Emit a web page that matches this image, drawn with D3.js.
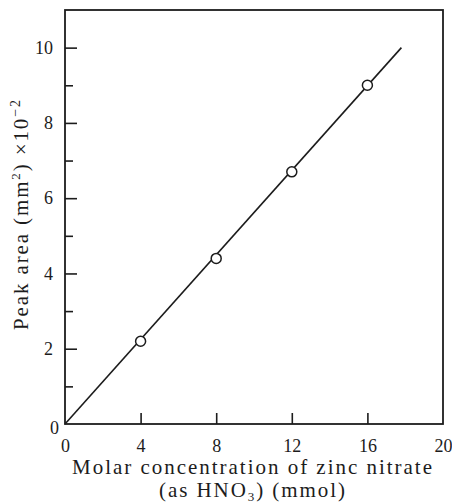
<!DOCTYPE html>
<html><head><meta charset="utf-8">
<script src="https://cdn.jsdelivr.net/npm/d3@7"></script>
<style>html,body{margin:0;padding:0;background:#fff;} svg{display:block;}</style>
</head><body>
<script>
// Data
const concentration = [4, 8, 12, 16];          // mmol (as HNO3)
const peakArea = [2.2, 4.4, 6.7, 9.0];         // mm^2 x 10^-2
const fitX = [0, 17.8];
const fitY = [0, 10.0];
const xMajorTicks = [0, 4, 8, 12, 16, 20];
const yMajorTicks = [0, 2, 4, 6, 8, 10];
const yMinorTicks = [1, 3, 5, 7, 9];

const W = 452, H = 504;
const m = {left: 65, right: 9, top: 10, bottom: 80};
const ink = "#1c1c1c";
const font = "'Liberation Serif','DejaVu Serif',serif";

const svg = d3.select("body").append("svg").attr("width", W).attr("height", H);

const x = d3.scaleLinear().domain([0, 20]).range([m.left, W - m.right]);
const y = d3.scaleLinear().domain([0, 11]).range([H - m.bottom, m.top]);

// Frame
svg.append("rect")
  .attr("x", x(0)).attr("y", y(11))
  .attr("width", x(20) - x(0)).attr("height", y(0) - y(11))
  .attr("fill", "none").attr("stroke", ink).attr("stroke-width", 1.8);

// X axis ticks (inward)
const xAxis = d3.axisBottom(x).tickValues(xMajorTicks).tickSize(-11).tickPadding(15).tickFormat(d3.format("d"));
const gx = svg.append("g").attr("transform", `translate(0,${y(0)})`).call(xAxis);
gx.select(".domain").remove();
gx.selectAll(".tick line").attr("stroke", ink).attr("stroke-width", 1.6)
  .filter(d => d === 0 || d === 20).remove();
gx.selectAll(".tick text").attr("fill", ink).style("font-family", font).style("font-size", "18px");

// Y axis major ticks (inward)
const yAxis = d3.axisLeft(y).tickValues(yMajorTicks).tickSize(-12).tickPadding(12).tickFormat(d3.format("d"));
const gy = svg.append("g").attr("transform", `translate(${x(0)},0)`).call(yAxis);
gy.select(".domain").remove();
gy.selectAll(".tick line").attr("stroke", ink).attr("stroke-width", 1.6)
  .filter(d => d === 0).remove();
gy.selectAll(".tick text").attr("fill", ink).style("font-family", font).style("font-size", "18px");
gy.selectAll(".tick").filter(d => d === 0).select("text").attr("dy", "0.55em").attr("x", -6);

// Y axis minor ticks
const yMinor = d3.axisLeft(y).tickValues(yMinorTicks).tickSize(-8).tickFormat("");
const gym = svg.append("g").attr("transform", `translate(${x(0)},0)`).call(yMinor);
gym.select(".domain").remove();
gym.selectAll(".tick line").attr("stroke", ink).attr("stroke-width", 1.6);

// Fit line
const line = d3.line().x(d => x(d[0])).y(d => y(d[1]));
svg.append("path").datum(d3.zip(fitX, fitY))
  .attr("d", line).attr("fill", "none").attr("stroke", ink).attr("stroke-width", 1.6);

// Points
svg.selectAll("circle.pt").data(d3.zip(concentration, peakArea)).join("circle")
  .attr("class", "pt")
  .attr("cx", d => x(d[0])).attr("cy", d => y(d[1])).attr("r", 5)
  .attr("fill", "#fff").attr("stroke", ink).attr("stroke-width", 1.5);

// X title
svg.append("text").attr("x", 252).attr("y", 474).attr("text-anchor", "middle")
  .attr("fill", ink).style("font-family", font).style("font-size", "21px")
  .attr("textLength", 360).attr("lengthAdjust", "spacing")
  .text("Molar concentration of zinc nitrate");
const xt2 = svg.append("text").attr("x", 252).attr("y", 497).attr("text-anchor", "middle")
  .attr("fill", ink).style("font-family", font).style("font-size", "21px")
  .attr("textLength", 186).attr("lengthAdjust", "spacing");
xt2.append("tspan").text("(as HNO");
xt2.append("tspan").attr("font-size", "13px").attr("dy", "4").text("3");
xt2.append("tspan").attr("dy", "-4").text(")  (mmol)");

// Y title
const yt = svg.append("text")
  .attr("transform", `translate(28,215) rotate(-90)`)
  .attr("text-anchor", "middle").attr("fill", ink)
  .style("font-family", font).style("font-size", "21px")
  .attr("textLength", 230).attr("lengthAdjust", "spacing");
yt.append("tspan").text("Peak area (mm");
yt.append("tspan").attr("font-size", "13px").attr("dy", "-8").text("2");
yt.append("tspan").attr("dy", "8").text(") ×10");
yt.append("tspan").attr("font-size", "14px").attr("dy", "-8").text("−2");
</script>
</body></html>
